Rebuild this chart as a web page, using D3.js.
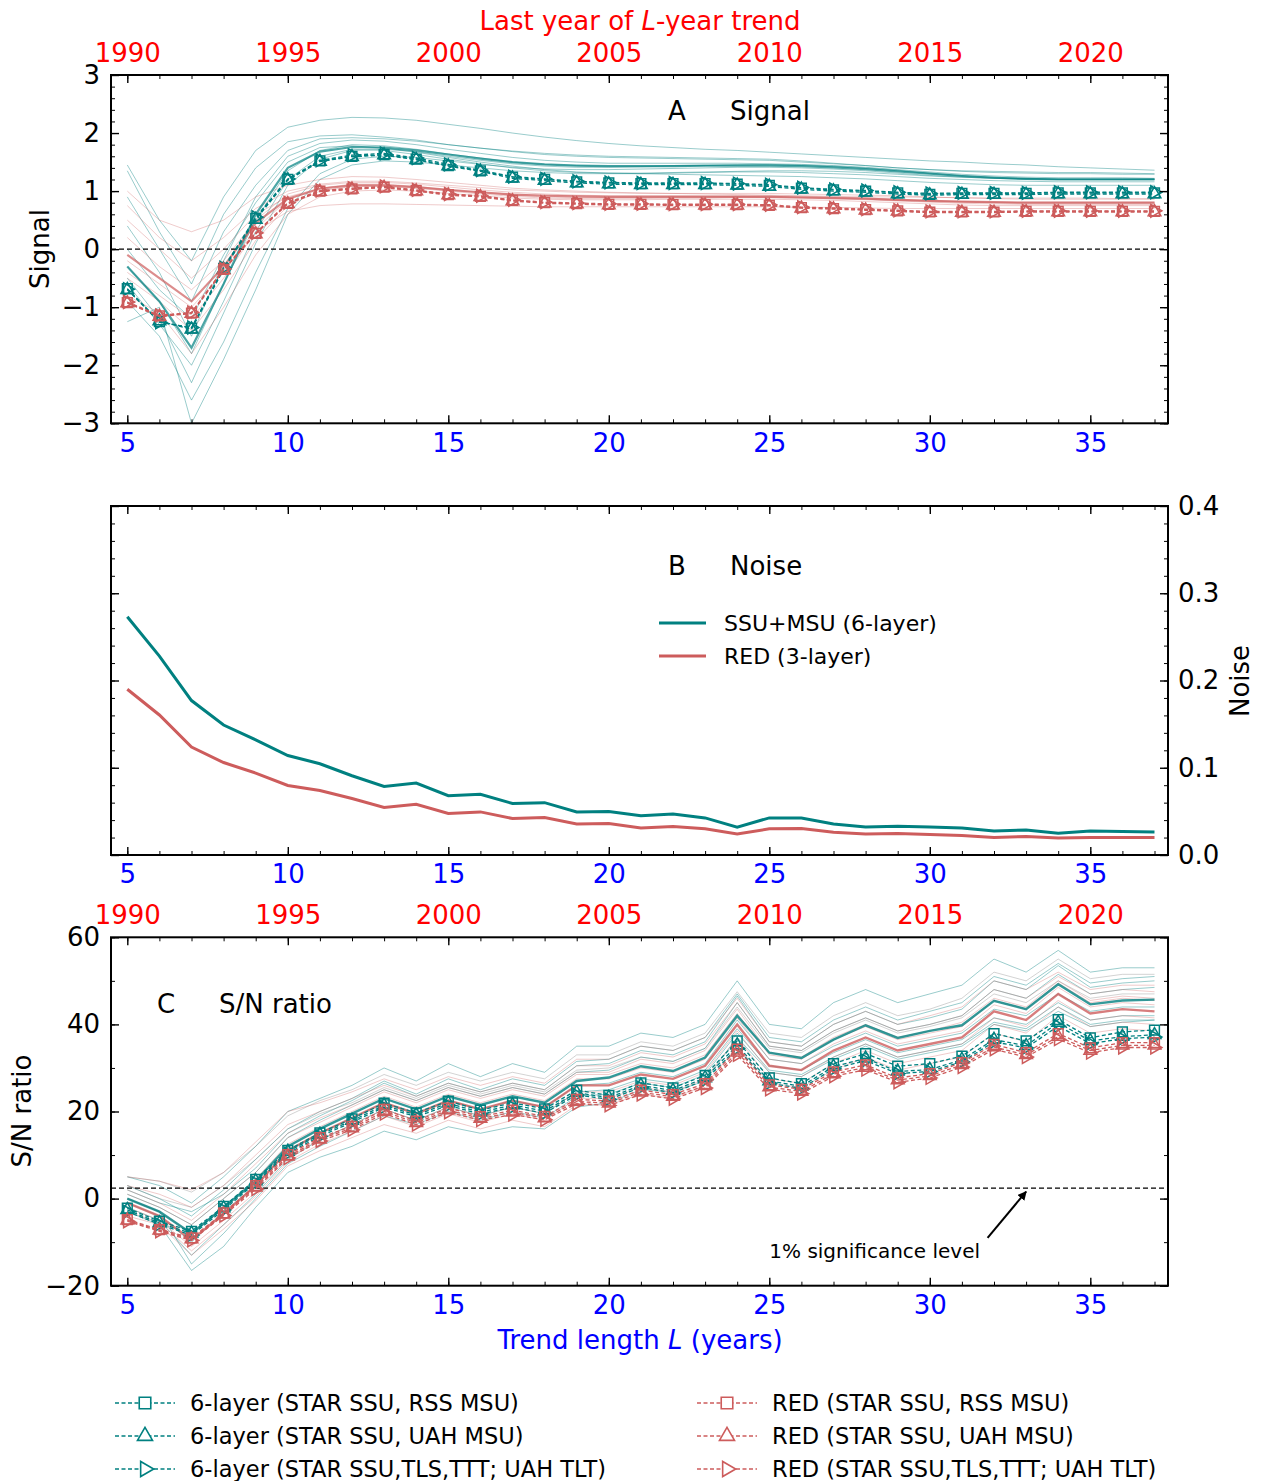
<!DOCTYPE html>
<html>
<head>
<meta charset="utf-8">
<script src="https://cdn.jsdelivr.net/npm/d3@7"></script>
<style>
  body { margin: 0; background: #fff; }
  text { font-family: "DejaVu Sans", sans-serif; }
</style>
</head>
<body>
<div id="chart"></div>
<script>
// ---- data ----
const trendL = [5,6,7,8,9,10,11,12,13,14,15,16,17,18,19,20,21,22,23,24,25,26,27,28,29,30,31,32,33,34,35,36,37];
const majorL = [5,10,15,20,25,30,35];
const yearLabels = ["1990","1995","2000","2005","2010","2015","2020"];

// panel A: model signal members (thin lines)
const signalModels6 = [
  [1.45,0.5,-0.2,0.9,1.7,2.1,2.22,2.27,2.26,2.22,2.15,2.08,2.0,1.93,1.87,1.82,1.78,1.75,1.72,1.7,1.67,1.64,1.61,1.58,1.55,1.52,1.5,1.47,1.45,1.42,1.4,1.38,1.36],
  [1.35,0.3,-0.6,0.6,1.4,1.85,1.95,1.97,1.93,1.88,1.8,1.74,1.68,1.63,1.6,1.58,1.57,1.56,1.55,1.54,1.53,1.5,1.47,1.44,1.4,1.37,1.35,1.34,1.33,1.32,1.32,1.31,1.3],
  [0.4,-0.4,-1.5,-0.2,0.9,1.6,1.82,1.88,1.86,1.8,1.72,1.65,1.58,1.53,1.5,1.48,1.48,1.48,1.48,1.48,1.47,1.46,1.44,1.41,1.37,1.33,1.29,1.26,1.24,1.23,1.23,1.23,1.22],
  [-0.3,-0.9,-1.8,-0.6,0.5,1.35,1.7,1.8,1.78,1.72,1.64,1.57,1.5,1.46,1.44,1.43,1.43,1.44,1.44,1.45,1.45,1.44,1.42,1.39,1.35,1.3,1.26,1.23,1.21,1.2,1.2,1.2,1.2],
  [-0.5,-1.2,-2.3,-1.1,0.1,1.1,1.55,1.7,1.72,1.68,1.6,1.53,1.47,1.43,1.41,1.41,1.42,1.43,1.44,1.45,1.46,1.45,1.43,1.4,1.36,1.31,1.27,1.24,1.22,1.21,1.21,1.21,1.21],
  [-0.9,-1.5,-2.6,-1.6,-0.4,0.7,1.3,1.55,1.6,1.58,1.52,1.46,1.41,1.38,1.37,1.37,1.38,1.39,1.4,1.41,1.41,1.4,1.38,1.35,1.31,1.27,1.24,1.22,1.21,1.2,1.2,1.2,1.2],
  [-1.25,-1.0,-3.0,-1.9,-0.7,0.6,1.2,1.45,1.52,1.5,1.45,1.4,1.35,1.32,1.3,1.3,1.3,1.31,1.32,1.33,1.33,1.32,1.3,1.28,1.25,1.22,1.2,1.18,1.17,1.16,1.16,1.16,1.16],
  [0.0,-0.7,-1.2,-0.1,0.8,1.5,1.75,1.78,1.74,1.67,1.58,1.5,1.43,1.37,1.33,1.31,1.3,1.29,1.28,1.27,1.26,1.25,1.23,1.21,1.18,1.15,1.13,1.11,1.1,1.1,1.1,1.1,1.1],
  [0.9,0.0,-0.9,0.3,1.1,1.7,1.9,1.92,1.9,1.86,1.8,1.74,1.69,1.65,1.62,1.6,1.59,1.58,1.57,1.56,1.55,1.52,1.48,1.44,1.4,1.37,1.34,1.32,1.31,1.3,1.3,1.29,1.29],
  [-0.6,-1.3,-2.0,-0.9,0.3,1.2,1.6,1.72,1.7,1.63,1.55,1.47,1.4,1.35,1.32,1.31,1.31,1.32,1.33,1.34,1.35,1.35,1.34,1.32,1.29,1.26,1.24,1.22,1.21,1.21,1.21,1.21,1.21]
];
const signalModelsRed = [
  [1.0,0.5,0.3,0.5,0.9,1.1,1.2,1.25,1.24,1.2,1.15,1.1,1.05,1.02,1.0,0.98,0.97,0.96,0.95,0.94,0.93,0.92,0.91,0.9,0.9,0.89,0.89,0.88,0.88,0.88,0.88,0.87,0.87],
  [0.75,0.2,-0.2,0.2,0.7,1.0,1.12,1.17,1.17,1.14,1.1,1.06,1.02,1.0,0.98,0.97,0.96,0.96,0.96,0.96,0.96,0.95,0.94,0.93,0.92,0.9,0.88,0.87,0.86,0.86,0.86,0.86,0.86],
  [0.2,-0.3,-0.7,-0.2,0.5,0.95,1.1,1.15,1.15,1.12,1.07,1.02,0.98,0.95,0.93,0.92,0.92,0.92,0.92,0.92,0.92,0.91,0.9,0.88,0.86,0.84,0.82,0.81,0.8,0.8,0.8,0.8,0.8],
  [-0.2,-0.6,-1.0,-0.4,0.35,0.85,1.05,1.12,1.12,1.08,1.02,0.97,0.93,0.9,0.89,0.89,0.89,0.9,0.9,0.91,0.91,0.9,0.89,0.87,0.85,0.83,0.81,0.8,0.79,0.79,0.79,0.79,0.79],
  [-0.5,-0.9,-1.4,-0.7,0.15,0.75,1.0,1.08,1.08,1.05,1.0,0.95,0.91,0.88,0.87,0.87,0.87,0.88,0.88,0.89,0.89,0.88,0.87,0.85,0.83,0.81,0.79,0.78,0.77,0.77,0.77,0.77,0.77],
  [-0.8,-1.1,-1.8,-1.0,-0.1,0.6,0.9,1.0,1.02,1.0,0.96,0.92,0.88,0.86,0.85,0.85,0.85,0.86,0.86,0.86,0.86,0.85,0.84,0.82,0.8,0.78,0.76,0.75,0.75,0.75,0.75,0.75,0.75],
  [-0.4,-0.8,-1.2,-0.5,0.3,0.65,0.75,0.78,0.78,0.77,0.76,0.75,0.74,0.73,0.73,0.73,0.73,0.73,0.73,0.73,0.73,0.72,0.72,0.71,0.7,0.7,0.7,0.7,0.7,0.7,0.7,0.7,0.7],
  [0.5,0.0,-0.5,0.0,0.6,0.9,1.05,1.1,1.1,1.07,1.02,0.98,0.95,0.93,0.92,0.91,0.91,0.91,0.91,0.91,0.9,0.89,0.88,0.86,0.84,0.83,0.82,0.81,0.81,0.81,0.81,0.81,0.81]
];
const signalMean6 = [-0.3,-0.9,-1.7,-0.6,0.6,1.4,1.68,1.76,1.75,1.7,1.63,1.56,1.5,1.46,1.44,1.43,1.43,1.43,1.44,1.44,1.44,1.43,1.41,1.38,1.34,1.3,1.26,1.23,1.21,1.2,1.2,1.2,1.2];
const signalMeanRed = [-0.1,-0.5,-0.9,-0.3,0.45,0.87,1.04,1.1,1.1,1.07,1.02,0.98,0.94,0.92,0.91,0.9,0.9,0.9,0.9,0.9,0.9,0.89,0.88,0.87,0.85,0.83,0.82,0.81,0.8,0.8,0.8,0.8,0.8];

// panel A: observations
const sigObs6Rss = [-0.68,-1.25,-1.36,-0.33,0.53,1.2,1.52,1.6,1.63,1.55,1.44,1.35,1.24,1.2,1.16,1.14,1.13,1.13,1.13,1.12,1.1,1.05,1.02,1.0,0.97,0.945,0.96,0.96,0.96,0.97,0.97,0.97,0.97];
const sigObs6Uah = [-0.7,-1.24,-1.38,-0.35,0.51,1.19,1.51,1.59,1.62,1.54,1.43,1.34,1.22,1.18,1.14,1.12,1.11,1.11,1.11,1.1,1.08,1.03,1.0,0.98,0.95,0.93,0.94,0.94,0.94,0.95,0.95,0.95,0.95];
const sigObs6Tlt = [-0.69,-1.26,-1.35,-0.32,0.55,1.21,1.53,1.62,1.65,1.57,1.46,1.36,1.25,1.21,1.17,1.15,1.14,1.14,1.14,1.13,1.11,1.06,1.03,1.01,0.98,0.96,0.97,0.97,0.97,0.98,0.98,0.98,0.98];
const sigObsRedRss = [-0.92,-1.15,-1.1,-0.35,0.27,0.79,1.0,1.04,1.07,1.01,0.94,0.91,0.84,0.8,0.785,0.77,0.77,0.765,0.765,0.765,0.755,0.715,0.7,0.68,0.66,0.64,0.64,0.64,0.65,0.65,0.65,0.65,0.65];
const sigObsRedUah = [-0.93,-1.16,-1.11,-0.36,0.26,0.78,0.99,1.03,1.06,1.0,0.93,0.9,0.83,0.79,0.775,0.76,0.76,0.755,0.755,0.755,0.745,0.705,0.69,0.67,0.65,0.63,0.63,0.63,0.64,0.64,0.64,0.64,0.64];
const sigObsRedTlt = [-0.91,-1.14,-1.09,-0.34,0.28,0.8,1.01,1.05,1.08,1.02,0.95,0.92,0.85,0.81,0.795,0.78,0.78,0.775,0.775,0.775,0.765,0.725,0.71,0.69,0.67,0.65,0.65,0.65,0.66,0.66,0.66,0.66,0.66];

// panel B: noise
const noise6 = [0.273,0.228,0.177,0.149,0.132,0.114,0.1046,0.0908,0.0785,0.0824,0.068,0.0697,0.059,0.06,0.0494,0.0498,0.045,0.047,0.0425,0.032,0.0425,0.0425,0.0356,0.032,0.033,0.032,0.031,0.0276,0.0287,0.025,0.0276,0.027,0.0264];
const noiseRed = [0.19,0.1605,0.1238,0.106,0.0939,0.0797,0.0739,0.0648,0.0544,0.0582,0.0475,0.0494,0.0418,0.0429,0.0356,0.036,0.031,0.0328,0.03,0.024,0.03,0.0305,0.026,0.024,0.0247,0.0236,0.0224,0.02,0.0213,0.0195,0.02,0.02,0.02];

// panel C: model S/N members
const snModels6 = [
  [5,3,-1,5,12,20,23,26,30,27,31,28,31,29,35,35,38,37,40,50,40,39,45,48,45,47,49,55,52,57,52,53,53],
  [3,0,-4,2,9,16,20,23,27,24,27.5,25,27.5,26,31.5,32,35,34,37,47,37,36,41,44,41,43,45,51,49,54,49.5,50.5,51],
  [1,-2,-6,0,6,14,18,21.5,25,22.5,25.5,23.5,25.5,24,29,29.5,32.5,31.5,34.5,45,35,34,38.5,41.5,38.5,40,42,48,46,51.5,47,48,48.5],
  [-1,-4,-10,-3,3,11,15,18.5,22,19.5,22.5,20.5,22.5,21,26,26.5,29,28,31,41,32,31,35,38,35,36.5,38,43.5,42,47,43,44,44],
  [-2,-5,-13,-6,1,9,13.5,17,20.5,18,21,19,21,19.5,24.5,25,27.5,26.5,29.5,39,30.5,29.5,33.5,36.5,33.5,35,36.5,41.5,40,45,41,42,42],
  [-3,-6,-16.5,-11,-2,6,9.5,12,15.5,13.5,16.5,15,16.5,16,21,22,25,24.5,27,37,29,28,32,35,32,33.5,35,40,38.5,43,39.5,40.5,41],
  [2,-1,-3,1,7,15,19,22.5,26.5,23.5,26.5,24.5,26.5,25,30.5,31,34,33,36,46.5,36,35,40,43,40,41.5,43.5,50,48,53.5,48.5,49.5,50],
  [0,-3,-15,-8,0,8,12,15.5,19,17,20,18,20,18.5,23.5,24,26.5,25.5,28.5,38,29.5,28.5,32.5,35.5,32.5,34,35.5,40.5,39,44,40,41,41]
];
const snModelsRed = [
  [5,4,2,6,13,20,22,24.5,27.5,25,28,26,28,26.5,32,32,35,34,37,46,36,35,40,43,40,42,44,50,48,52,48,49,49],
  [2,-1,-5,1,8,15,18.5,21.5,25,22.5,25.5,23.5,25.5,24,29,29,32,31,34,43.5,33.5,32.5,37,40,37,38.5,40.5,46,44,50,45.5,46.5,46],
  [0,-3,-8,-2,4.5,12.5,16.5,20,23.5,21,24,22,24,22.5,27.5,27.5,30,29,32,41.5,32,31,35.5,38.5,35.5,37,38.5,44.5,42.5,48.5,44,45,44.5],
  [-2,-5,-11,-5,1.5,9.5,13.5,17,20.5,18,21,19,21,19.5,24.5,24.5,27,26,29,38.5,29,28,32.5,35.5,32.5,34,35.5,41.5,39.5,45.5,41,42,41.5],
  [-4,-6,-13,-7,-0.5,7.5,11,14,17,15,18,16,18,16.5,21.5,21.5,24,23,26,35,26.5,25.5,29.5,32.5,29.5,31,32.5,38,36,42,38,39,38.5],
  [1,-2,-6,0,6,14,17.5,21,24.5,22,25,23,25,23.5,28.5,28.5,31,30,33,42.5,33,32,36.5,39.5,36.5,38,39.5,45.5,43.5,49.5,45,46,45.5],
  [-3,-5.5,-12,-6,0.5,8.5,12.5,15.5,19,16.5,19.5,17.5,19.5,18,23,23,25.5,24.5,27.5,37,27.5,26.5,31,34,31,32.5,34,40,38,44,39.5,40.5,40],
  [3,1,-2,3,10,17,20,23,26,23.5,26.5,24.5,26.5,25,30.5,30.5,33.5,32.5,35.5,45,35,34,38.5,41.5,38.5,40,42,48,46,51,47,48,47.5]
];
const snModelsGray = [
  [5,4,1.5,6,12,19,22.5,25,28.5,26,29,27,29,27.5,33,33,36,35,38,47.5,38,37,42,45,42,43.5,46,52,50,55,50.5,51.5,51.5],
  [3,0,-2,3,9,16,19.5,22,25.5,23,26,24,26,24.5,29.5,30,32.5,31.5,34.5,44,34.5,33.5,38,41,38,39.5,41.5,47,45,50,46,47,47]
];
const snMean6 = [0,-3,-8,-2,4,12,16,19.5,23,20.5,23.5,21.5,23.5,22,27,27.8,30.4,29.3,32.4,42,33.5,32.3,36.5,39.8,36.9,38.5,39.8,45.4,43.5,49.2,44.6,45.5,45.7];
const snMeanRed = [-1,-4,-9.5,-3.5,3,11,15,18.5,22,19.5,22.5,20.5,22.5,21,26,26,28.5,27.5,30.5,40,30.5,29.5,34,37,34,35.5,37,43,41,47,42.5,43.5,43];

// panel C: observations
const snObs6Rss = [-2.2,-5.2,-7.5,-1.8,4.4,11.1,15.1,18.3,21.9,19.7,22.4,20.3,22.0,20.6,24.9,23.7,26.6,25.4,28.3,36.2,27.7,26.4,31.0,33.3,30.4,31.0,32.7,37.9,36.2,41.1,36.9,38.3,38.7];
const snObs6Uah = [-2.6,-5.6,-8.0,-2.2,4.0,10.8,14.7,17.9,21.4,19.2,21.9,19.8,21.5,20.1,24.3,23.2,26.0,24.8,27.7,35.2,27.0,25.8,30.3,32.2,29.2,29.6,31.9,36.5,35.1,40.4,36.2,37.2,37.6];
const snObs6Tlt = [-3.0,-5.9,-8.4,-2.6,3.6,10.4,14.3,17.5,21.0,18.8,21.4,19.4,21.0,19.6,23.8,22.8,25.5,24.3,27.2,34.5,26.5,25.3,29.8,31.7,28.7,29.2,31.4,36.0,34.6,39.6,35.6,36.7,37.1];
const snObsRedRss = [-4.8,-7.1,-9.0,-3.3,3.0,10.1,14.0,16.6,20.5,17.8,20.8,18.8,20.3,18.9,22.8,22.4,24.9,23.9,26.4,34.3,26.1,25.1,29.1,30.7,27.7,28.7,31.2,35.4,33.5,37.9,34.6,35.8,35.8];
const snObsRedUah = [-5.0,-7.3,-9.3,-3.6,2.6,9.7,13.6,16.2,20.0,17.4,20.3,18.4,19.8,18.5,22.3,21.9,24.4,23.4,25.9,33.6,25.6,24.6,28.6,30.1,27.2,28.2,30.7,34.8,33.0,37.2,34.0,35.2,35.2];
const snObsRedTlt = [-5.2,-7.5,-9.6,-3.9,2.2,9.3,13.2,15.8,19.5,17.0,19.8,18.0,19.3,18.1,21.8,21.4,23.9,22.9,25.4,33.0,25.1,24.1,28.1,29.6,26.7,27.7,30.2,34.3,32.5,36.6,33.5,34.7,34.7];

const sigLevel = 2.4;

const obsLabels = [
  "6-layer (STAR SSU, RSS MSU)", "6-layer (STAR SSU, UAH MSU)", "6-layer (STAR SSU,TLS,TTT; UAH TLT)",
  "RED (STAR SSU, RSS MSU)", "RED (STAR SSU, UAH MSU)", "RED (STAR SSU,TLS,TTT; UAH TLT)"
];

// ---- drawing ----
const TEAL = "#008080", RED = "#cd5c5c";
const W = 1261, H = 1481;
const boxL = 111, boxR = 1168;
const FS = 26;

const svg = d3.select("#chart").append("svg")
    .attr("width", W).attr("height", H)
    .style("background", "#fff");

const x = d3.scaleLinear().domain([5, 37]).range([127.3, 1154.5]);

const shapes = [
  { sym: d3.symbolSquare, size: 95, rot: 0 },
  { sym: d3.symbolTriangle, size: 70, rot: 0 },
  { sym: d3.symbolTriangle, size: 70, rot: 90 }
];

function styleText(sel, color, size) {
  sel.selectAll("text")
    .attr("fill", color)
    .style("font-family", "DejaVu Sans")
    .style("font-size", (size || FS) + "px");
}

function makePanel(id, top, bottom, domain) {
  const y = d3.scaleLinear().domain(domain).range([bottom, top]);
  const g = svg.append("g");
  svg.append("clipPath").attr("id", "clip" + id)
    .append("rect").attr("x", boxL).attr("y", top)
    .attr("width", boxR - boxL).attr("height", bottom - top);
  const plot = g.append("g").attr("clip-path", `url(#clip${id})`);
  return { y, g, plot, top, bottom };
}

// inward ticks on a side; labels optional
function ticks(p, side, scale, major, minor, fmt, color, pad) {
  const axisFn = { bottom: d3.axisBottom, top: d3.axisTop, left: d3.axisLeft, right: d3.axisRight }[side];
  const tr = { bottom: `translate(0,${p.bottom})`, top: `translate(0,${p.top})`,
               left: `translate(${boxL},0)`, right: `translate(${boxR},0)` }[side];
  p.g.append("g").attr("transform", tr)
    .call(axisFn(scale).tickValues(minor).tickSize(-4).tickFormat(""))
    .call(a => a.select(".domain").remove())
    .call(a => a.selectAll("line").attr("stroke", "#000").attr("stroke-width", 1));
  const ax = p.g.append("g").attr("transform", tr)
    .call(axisFn(scale).tickValues(major).tickSize(-8).tickPadding(pad || 10)
      .tickFormat(fmt ? fmt : ""))
    .call(a => a.select(".domain").remove())
    .call(a => a.selectAll("line").attr("stroke", "#000").attr("stroke-width", 1.4));
  styleText(ax, color || "#000");
  return ax;
}

function frame(p) {
  p.g.append("rect")
    .attr("x", boxL).attr("y", p.top)
    .attr("width", boxR - boxL).attr("height", p.bottom - p.top)
    .attr("fill", "none").attr("stroke", "#000").attr("stroke-width", 2);
}

function lineGen(y) {
  return d3.line().x((d, i) => x(trendL[i])).y(d => y(d));
}

function thinLines(p, members, color, opacity, width) {
  p.plot.selectAll(null).data(members).join("path")
    .attr("d", lineGen(p.y))
    .attr("fill", "none").attr("stroke", color)
    .attr("stroke-width", width).attr("stroke-opacity", opacity);
}

function obsSeries(p, series, color) {
  series.forEach((vals, k) => {
    p.plot.append("path").datum(vals)
      .attr("d", lineGen(p.y))
      .attr("fill", "none").attr("stroke", color)
      .attr("stroke-width", 1.3).attr("stroke-dasharray", "4,2.5");
    p.plot.selectAll(null).data(vals).join("path")
      .attr("transform", (d, i) => `translate(${x(trendL[i])},${p.y(d)}) rotate(${shapes[k].rot})`)
      .attr("d", d3.symbol().type(shapes[k].sym).size(shapes[k].size))
      .attr("fill", "none").attr("stroke", color).attr("stroke-width", 1.5);
  });
}

function hline(p, v) {
  p.plot.append("line")
    .attr("x1", boxL).attr("x2", boxR)
    .attr("y1", p.y(v)).attr("y2", p.y(v))
    .attr("stroke", "#000").attr("stroke-width", 1.3).attr("stroke-dasharray", "5,3");
}

// ---------- Panel A ----------
const A = makePanel("A", 75, 423.3, [-3, 3]);
thinLines(A, signalModels6, TEAL, 0.4, 1);
thinLines(A, signalModelsRed, RED, 0.32, 1);
thinLines(A, [signalMean6], TEAL, 0.7, 2.2);
thinLines(A, [signalMeanRed], RED, 0.7, 2.2);
hline(A, 0);
obsSeries(A, [sigObs6Rss, sigObs6Uah, sigObs6Tlt], TEAL);
obsSeries(A, [sigObsRedRss, sigObsRedUah, sigObsRedTlt], RED);
ticks(A, "bottom", x, majorL, trendL, d3.format("d"), "blue", 10);
ticks(A, "top", x, majorL, trendL, (d, i) => yearLabels[i], "red", 13);
ticks(A, "left", A.y, [-3,-2,-1,0,1,2,3], A.y.ticks(30), d3.format("d"), "#000", 11);
ticks(A, "right", A.y, [-3,-2,-1,0,1,2,3], A.y.ticks(30), null);
frame(A);

// ---------- Panel B ----------
const B = makePanel("B", 506, 855, [0, 0.4]);
thinLines(B, [noise6], TEAL, 1, 3);
thinLines(B, [noiseRed], RED, 1, 3);
ticks(B, "bottom", x, majorL, trendL, d3.format("d"), "blue", 10);
ticks(B, "top", x, majorL, trendL, null);
ticks(B, "left", B.y, [0, 0.1, 0.2, 0.3, 0.4], B.y.ticks(20), null);
ticks(B, "right", B.y, [0, 0.1, 0.2, 0.3, 0.4], B.y.ticks(20), d3.format(".1f"), "#000", 10);
frame(B);

// ---------- Panel C ----------
const C = makePanel("C", 937.3, 1285.7, [-20, 60]);
thinLines(C, snModels6, TEAL, 0.4, 1);
thinLines(C, snModelsRed, RED, 0.32, 1);
thinLines(C, snModelsGray, "#808080", 0.35, 1);
thinLines(C, [snMean6], TEAL, 0.8, 2.4);
thinLines(C, [snMeanRed], RED, 0.8, 2.4);
hline(C, sigLevel);
obsSeries(C, [snObs6Rss, snObs6Uah, snObs6Tlt], TEAL);
obsSeries(C, [snObsRedRss, snObsRedUah, snObsRedTlt], RED);
ticks(C, "bottom", x, majorL, trendL, d3.format("d"), "blue", 10);
ticks(C, "top", x, majorL, trendL, (d, i) => yearLabels[i], "red", 13);
ticks(C, "left", C.y, [-20, 0, 20, 40, 60], C.y.ticks(8), d3.format("d"), "#000", 11);
ticks(C, "right", C.y, [-20, 0, 20, 40, 60], C.y.ticks(8), null);
frame(C);

// ---------- texts ----------
function txt(x0, y0, s, opts) {
  opts = opts || {};
  const t = svg.append("text").attr("x", x0).attr("y", y0)
    .attr("fill", opts.color || "#000")
    .style("font-size", (opts.size || FS) + "px")
    .attr("text-anchor", opts.anchor || "start");
  if (opts.rotate) t.attr("transform", `rotate(${opts.rotate},${x0},${y0})`);
  if (s) t.text(s);
  return t;
}

const title = txt(640, 30, null, { color: "red", anchor: "middle" });
title.append("tspan").text("Last year of ");
title.append("tspan").style("font-style", "italic").text("L");
title.append("tspan").text("-year trend");

const xl = txt(640, 1349, null, { color: "blue", anchor: "middle" });
xl.append("tspan").text("Trend length ");
xl.append("tspan").style("font-style", "italic").text("L");
xl.append("tspan").text(" (years)");

txt(49, 249, "Signal", { anchor: "middle", rotate: -90 });
txt(1249, 681, "Noise", { anchor: "middle", rotate: -90 });
txt(31, 1111, "S/N ratio", { anchor: "middle", rotate: -90 });

txt(668, 120, "A");
txt(730, 120, "Signal");
txt(668, 575, "B");
txt(730, 575, "Noise");
txt(157, 1013, "C");
txt(219, 1013, "S/N ratio");

// panel B legend
[[TEAL, "SSU+MSU (6-layer)", 623], [RED, "RED (3-layer)", 656]].forEach(([c, s, yy]) => {
  svg.append("line").attr("x1", 659).attr("x2", 706).attr("y1", yy).attr("y2", yy)
    .attr("stroke", c).attr("stroke-width", 3);
  txt(724, yy + 8, s, { size: 22 });
});

// significance annotation
svg.append("defs").append("marker")
  .attr("id", "arrowhead").attr("viewBox", "0 0 10 10")
  .attr("refX", 9).attr("refY", 5)
  .attr("markerWidth", 9).attr("markerHeight", 9)
  .attr("markerUnits", "userSpaceOnUse")
  .attr("orient", "auto")
  .append("path").attr("d", "M0,0 L10,5 L0,10 z").attr("fill", "#000");
svg.append("line")
  .attr("x1", x(31.8)).attr("y1", C.y(-9))
  .attr("x2", x(33)).attr("y2", C.y(1.6))
  .attr("stroke", "#000").attr("stroke-width", 2)
  .attr("marker-end", "url(#arrowhead)");
txt(x(25), C.y(-13.6), "1% significance level", { size: 20 });

// bottom legend
const legCols = [115, 697];
const legRows = [1403, 1436, 1469];
obsLabels.forEach((s, i) => {
  const col = Math.floor(i / 3), row = i % 3;
  const c = col === 0 ? TEAL : RED;
  const x0 = legCols[col], yy = legRows[row];
  svg.append("line").attr("x1", x0).attr("x2", x0 + 60).attr("y1", yy).attr("y2", yy)
    .attr("stroke", c).attr("stroke-width", 1.3).attr("stroke-dasharray", "4,2.5");
  svg.append("path")
    .attr("transform", `translate(${x0 + 30},${yy}) rotate(${shapes[row].rot})`)
    .attr("d", d3.symbol().type(shapes[row].sym).size(shapes[row].size * 1.4))
    .attr("fill", "#fff").attr("stroke", c).attr("stroke-width", 1.6);
  txt(x0 + 75, yy + 8, s, { size: 22.5 });
});
</script>
</body>
</html>
